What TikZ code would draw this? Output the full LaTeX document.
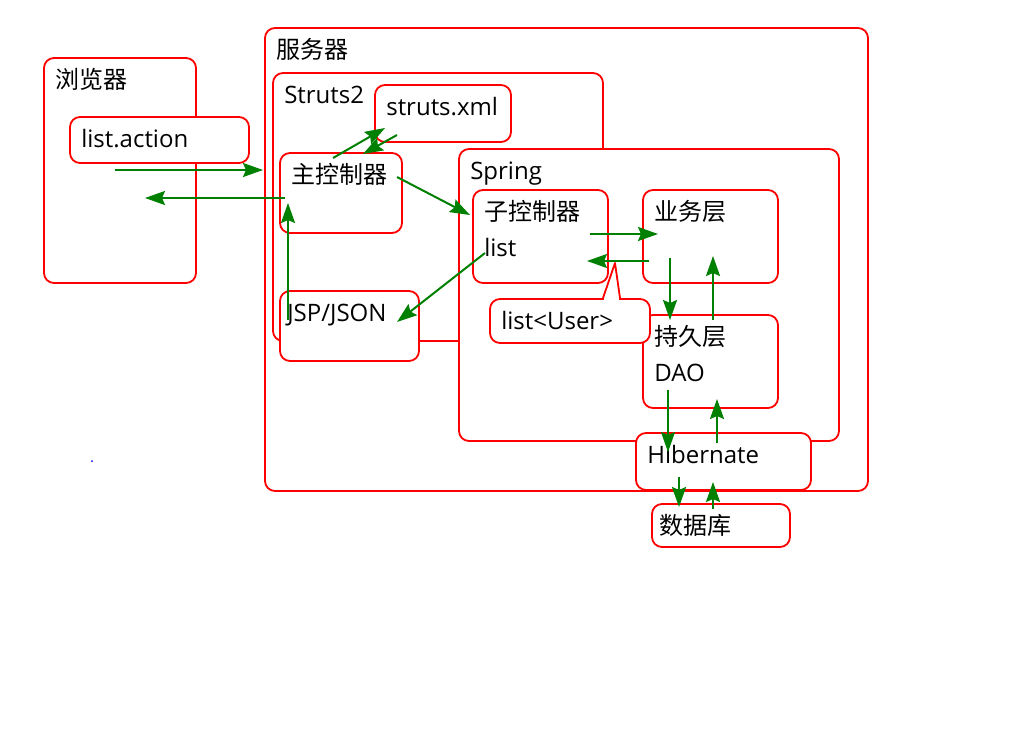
\documentclass[tikz,border=0pt]{standalone}
\usepackage{fontspec}
\setmainfont{Open Sans}
\newfontfamily\cjk{Noto Sans CJK SC}
\usetikzlibrary{arrows.meta}

\begin{document}
\begin{tikzpicture}[x=1pt,y=-1pt,font=\fontsize{24}{28}\selectfont,
    box/.style={draw=red,fill=white,line width=1.8pt,rounded corners=10pt,inner sep=0pt},
    txt/.style={anchor=base west,inner sep=0pt,xshift=12pt,yshift=-31pt},
    flow/.style={draw=green!50!black,line width=2pt,-{Stealth[length=20pt,width=14pt,inset=3pt]}}]
    \path[use as bounding box,fill=white] (0,0) rectangle (1024,728);

    \node[box,minimum width=603pt,minimum height=463pt,label={[txt]north west:{\cjk 服务器}}] (server) at (566.5,259.5) {};
    \node[box,minimum width=152pt,minimum height=225pt,label={[txt]north west:{\cjk 浏览器}}] (browser) at (120,170.5) {};
    \node[box,minimum width=179pt,minimum height=46pt,label={[txt]north west:list.action}] (action) at (159.5,140) {};
    \node[box,minimum width=330pt,minimum height=268pt,label={[txt]north west:Struts2}] (struts) at (438,207) {};
    \node[box,minimum width=136pt,minimum height=57pt,label={[txt]north west:struts.xml}] (xml) at (443,113.5) {};
    \node[box,minimum width=122pt,minimum height=80pt,label={[txt]north west:{\cjk 主控制器}}] (main) at (341,193) {};
    \node[box,minimum width=139pt,minimum height=70pt,label={[txt,xshift=-4pt]north west:JSP/JSON}] (view) at (349.5,326) {};
    \node[box,minimum width=380pt,minimum height=292pt,label={[txt]north west:Spring}] (spring) at (649,295) {};
    \node[box,minimum width=135pt,minimum height=93pt,label={[txt]north west:{\cjk 子控制器}},
        label={[txt,yshift=-36pt]north west:list}] (sub) at (540.5,236.5) {};
    \node[box,minimum width=135pt,minimum height=93pt,label={[txt]north west:{\cjk 业务层}}] (service) at (710.5,236.5) {};
    \node[box,minimum width=135pt,minimum height=93pt,label={[txt]north west:{\cjk 持久层}},
        label={[txt,yshift=-36pt]north west:DAO}] (dao) at (710.5,361.5) {};
    \node[box,minimum width=160pt,minimum height=44pt,label={[txt]north west:list<User>}] (users) at (570,321) {};
    \coordinate (users-tip) at (615,263);
    \fill[white] ([xshift=34pt,yshift=-2pt]users.north) rectangle ([xshift=49pt,yshift=2pt]users.north);
    \draw[red,line width=1.8pt,line join=round] ([xshift=33pt]users.north) -- (users-tip) -- ([xshift=50pt]users.north);
    \node[box,minimum width=175pt,minimum height=57pt,label={[txt]north west:Hibernate}] (orm) at (723.5,461.5) {};
    \node[box,minimum width=138pt,minimum height=43pt,label={[txt,xshift=-4pt]north west:{\cjk 数据库}}] (db) at (721,525.5) {};

    \fill[blue] (92,461) circle (1pt);

    \coordinate (req-s) at (115,170);  \coordinate (req-t) at (263,170);
    \coordinate (resp-s) at (285,198); \coordinate (resp-t) at (145,198);
    \coordinate (cfg-s) at (333,158);  \coordinate (cfg-t) at (385,128);
    \coordinate (cfgr-s) at (397,135); \coordinate (cfgr-t) at (363,154);
    \coordinate (disp-s) at (397,177); \coordinate (disp-t) at (470,215);
    \coordinate (out-s) at (485,253);  \coordinate (out-t) at (397,322);
    \coordinate (up-s) at (288,320);   \coordinate (up-t) at (288,203);
    \coordinate (call-s) at (590,234); \coordinate (call-t) at (658,234);
    \coordinate (ret-s) at (649,261);  \coordinate (ret-t) at (587,261);
    \coordinate (dao-s) at (670,258);  \coordinate (dao-t) at (670,320);
    \coordinate (daor-s) at (713,320); \coordinate (daor-t) at (713,256);
    \coordinate (orm-s) at (668,390);  \coordinate (orm-t) at (668,452);
    \coordinate (ormr-s) at (717,443); \coordinate (ormr-t) at (717,399);
    \coordinate (db-s) at (679,477);   \coordinate (db-t) at (679,507);
    \coordinate (dbr-s) at (713,509);  \coordinate (dbr-t) at (713,482);

    \draw[flow] (req-s) -- (req-t);
    \draw[flow] (resp-s) -- (resp-t);
    \draw[flow] (cfg-s) -- (cfg-t);
    \draw[flow] (cfgr-s) -- (cfgr-t);
    \draw[flow] (disp-s) -- (disp-t);
    \draw[flow] (out-s) -- (out-t);
    \draw[flow] (up-s) -- (up-t);
    \draw[flow] (call-s) -- (call-t);
    \draw[flow] (ret-s) -- (ret-t);
    \draw[flow] (dao-s) -- (dao-t);
    \draw[flow] (daor-s) -- (daor-t);
    \draw[flow] (orm-s) -- (orm-t);
    \draw[flow] (ormr-s) -- (ormr-t);
    \draw[flow] (db-s) -- (db-t);
    \draw[flow] (dbr-s) -- (dbr-t);
\end{tikzpicture}
\end{document}
